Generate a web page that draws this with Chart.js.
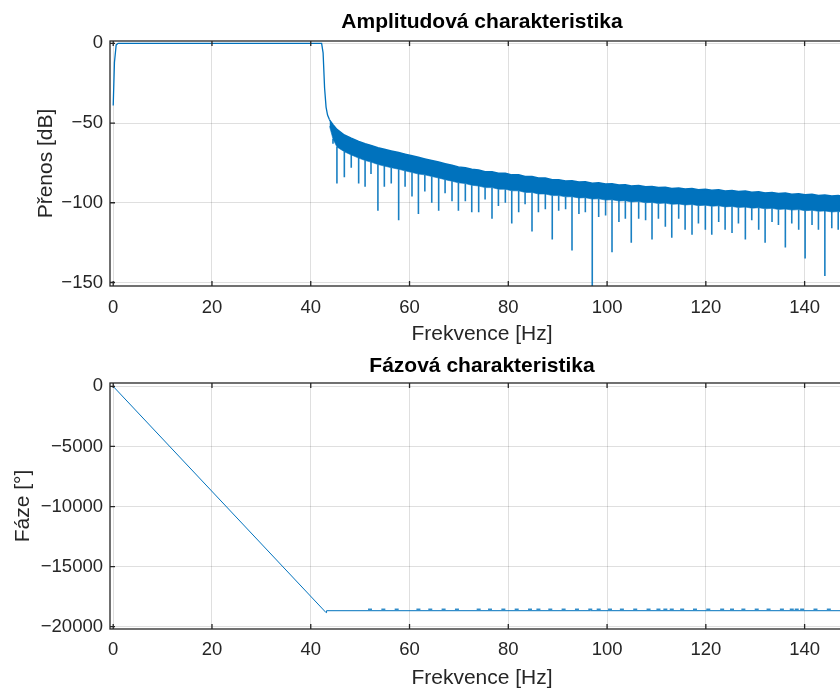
<!DOCTYPE html>
<html>
<head>
<meta charset="utf-8">
<script src="https://cdn.jsdelivr.net/npm/chart.js@4.4.0/dist/chart.umd.min.js"></script>
<style>
  html, body { margin: 0; padding: 0; background: #fff; width: 840px; height: 691px; overflow: hidden; }
  canvas { position: absolute; left: 0; }
  #amp { top: 0; }
  #phase { top: 345px; }
</style>
</head>
<body>
<canvas id="amp" width="870" height="350"></canvas>
<canvas id="phase" width="870" height="346"></canvas>
<script>
// tick labels
var freqTicks = [0, 20, 40, 60, 80, 100, 120, 140];
var ampTicks = [-150, -100, -50, 0];
var phaseTicks = [-20000, -15000, -10000, -5000, 0];

// amplitude: pass band + transition
var passHz = [0, 0.25, 0.6, 1.0, 42.2, 42.5, 42.8, 43.1, 43.4, 43.8];
var passDb = [-39, -12, -1, 0, 0, -6, -28, -40, -45, -48];

// amplitude: stop band (ripple band edges and notch depths at each notch)
var stopHz = [43.8, 44.5, 45.3, 46.8, 48.2, 49.7, 51.0, 52.2, 53.6, 54.9, 56.3, 57.8,
  59.1, 60.5, 61.8, 63.1, 64.5, 65.9, 67.2, 68.6, 69.9, 71.3,
  72.6, 74.0, 75.3, 76.7, 78.0, 79.4, 80.7, 82.1, 83.4, 84.8,
  86.1, 87.5, 88.9, 90.2, 91.6, 92.9, 94.3, 95.6, 97.0, 98.3,
  99.7, 101.0, 102.4, 103.7, 104.9, 106.4, 107.8, 109.1, 110.4, 111.8,
  113.1, 114.5, 115.8, 117.2, 118.5, 119.9, 121.2, 122.6, 123.9, 125.3,
  126.6, 128.0, 129.3, 130.7, 132.0, 133.4, 134.7, 136.1, 137.4, 138.8,
  140.1, 141.5, 142.8, 144.1, 145.5, 146.8, 148.2, 149.5];
var stopTop = [-48, -51, -54, -57.5, -59.5, -61.5, -63, -64, -65.5, -66.5, -67.5, -68.5,
  -69.5, -70.5, -71.5, -72.5, -73.5, -74.5, -75.5, -76.5, -77.5, -78,
  -79, -79.5, -80.5, -80.5, -81.5, -81.5, -82.5, -82.5, -83.5, -83.5,
  -84.5, -84.5, -85.5, -85.5, -86.3, -86.2, -87, -86.8, -87.7, -87.5,
  -88.3, -88.1, -88.9, -88.7, -89.5, -89.2, -90, -89.8, -90.5, -90.2,
  -91, -90.7, -91.4, -91.1, -91.8, -91.5, -92.2, -91.9, -92.6, -92.3,
  -93, -92.7, -93.4, -93.1, -93.8, -93.5, -94.2, -93.9, -94.6, -94.3,
  -95, -94.7, -95.4, -95.1, -95.8, -95.5, -96.2, -96];
var stopLow = [-52, -60, -65, -68, -70, -72, -73.5, -74.5, -76, -77, -78, -79,
  -80, -81, -82, -82.5, -83.5, -84.5, -85.5, -86.5, -87.5, -88,
  -89, -89.5, -90.5, -90.5, -91.5, -91.5, -92.5, -92.5, -93.5, -93.5,
  -94.5, -94.5, -95.5, -95.5, -96.3, -96.2, -97, -96.8, -97.7, -97.5,
  -98.3, -98.1, -98.9, -98.7, -99.5, -99.2, -100, -99.8, -100.5, -100.2,
  -101, -100.7, -101.4, -101.1, -101.8, -101.5, -102.2, -101.9, -102.6, -102.3,
  -103, -102.7, -103.4, -103.1, -103.8, -103.5, -104.2, -103.9, -104.6, -104.3,
  -105, -104.7, -105.4, -105.1, -105.8, -105.5, -106.2, -106];
var stopDip = [-52, -63, -88, -84, -78, -88, -90, -82, -105, -90, -88, -111,
  -90, -96, -107, -93, -100, -105, -94, -99, -105, -99,
  -106, -106, -98, -110, -102, -100, -113, -106, -101, -118,
  -106, -104, -123, -105, -104, -130, -107, -106, -153, -109,
  -108, -131, -112, -110, -125, -110, -111, -123, -110, -115,
  -122, -110, -117, -120, -113, -117, -120, -112, -117, -119,
  -113, -123, -111, -117, -125, -112, -114, -128, -113, -117,
  -135, -114, -117, -146, -116, -117, -114, -118];

// phase
var phaseHz = [0, 43.1, 43.2, 150];
var phaseDeg = [0, -18830, -18670, -18670];
var blipHz = [52, 54.7, 57.4, 61.8, 64.2, 66.9, 69.6, 74, 76.3, 79,
  81.7, 84.4, 86.1, 88.5, 91.2, 93.9, 96.6, 98.3, 100.6, 103,
  105.7, 108.4, 110.4, 111.8, 113.1, 115.2, 117.8, 120.5, 123.3, 125.3,
  127.6, 130.3, 132.7, 135.4, 137.4, 138.4, 139.5, 142.2, 144.9, 147.6];
var blipDeg = -18545;

var blue = '#0072BD';
var axisCol = '#262626';
var fam = '"Liberation Sans", Arial, Helvetica, sans-serif';

function pts(xs, ys) {
  return xs.map(function (x, i) { return {x: x, y: ys[i]}; });
}

var boxPlugin = {
  id: 'box',
  afterDraw: function (chart) {
    var ctx = chart.ctx, a = chart.chartArea;
    var x = chart.scales.x, y = chart.scales.y;
    ctx.save();
    ctx.strokeStyle = axisCol;
    ctx.lineWidth = 1.3;
    ctx.strokeRect(a.left, a.top, a.right - a.left, a.bottom - a.top);
    ctx.beginPath();
    x.ticks.forEach(function (t) {
      var px = x.getPixelForValue(t.value);
      ctx.moveTo(px, a.bottom); ctx.lineTo(px, a.bottom - 5);
      ctx.moveTo(px, a.top); ctx.lineTo(px, a.top + 5);
    });
    y.ticks.forEach(function (t) {
      var py = y.getPixelForValue(t.value);
      ctx.moveTo(a.left, py); ctx.lineTo(a.left + 5, py);
      ctx.moveTo(a.right, py); ctx.lineTo(a.right - 5, py);
    });
    ctx.stroke();
    ctx.restore();
  }
};

function tickLabel(v) { return String(v).replace('-', '\u2212'); }

function makeOptions(o) {
  return {
    responsive: false,
    animation: false,
    devicePixelRatio: 1,
    layout: {padding: {left: 0, right: 16, top: 0, bottom: 0}},
    plugins: {
      legend: {display: false},
      tooltip: {enabled: false},
      title: {
        display: true, text: o.title, fullSize: false, color: '#000',
        font: {family: fam, size: 21, weight: 'bold'},
        padding: o.titlePad
      }
    },
    scales: {
      x: {
        type: 'linear', min: -0.65, max: 150,
        afterBuildTicks: function (s) { s.ticks = freqTicks.map(function (v) { return {value: v}; }); },
        afterFit: function (s) { s.height = o.xHeight; },
        grid: {color: 'rgba(38,38,38,0.15)', drawTicks: false},
        border: {display: false},
        ticks: {color: axisCol, padding: o.xTickPad, font: {family: fam, size: 18.5}, callback: tickLabel, maxRotation: 0},
        title: {display: true, text: 'Frekvence [Hz]', color: axisCol, font: {family: fam, size: 21}, padding: {top: 0, bottom: o.xTitlePad}}
      },
      y: {
        min: o.yMin, max: o.yMax,
        afterBuildTicks: function (s) { s.ticks = o.yTicks.map(function (v) { return {value: v}; }); },
        afterFit: function (s) { s.width = 110; },
        grid: {color: 'rgba(38,38,38,0.15)', drawTicks: false},
        border: {display: false},
        ticks: {color: axisCol, padding: 7, font: {family: fam, size: 18.5}, callback: tickLabel},
        title: {display: true, text: o.yTitle, color: axisCol, font: {family: fam, size: 21}, padding: {top: o.yTitlePad, bottom: 0}}
      }
    }
  };
}

// spikes: one vertical segment per notch, from band bottom down to notch depth
var spikePts = [];
stopHz.forEach(function (f, i) {
  spikePts.push({x: f, y: stopLow[i]}, {x: f, y: stopDip[i]}, {x: f, y: null});
});

new Chart(document.getElementById('amp'), {
  type: 'scatter',
  data: {
    datasets: [
      {data: pts(passHz, passDb), showLine: true, borderColor: blue, borderWidth: 1.3, pointRadius: 0},
      {data: pts(stopHz, stopTop), showLine: true, borderColor: blue, borderWidth: 1.5, pointRadius: 0},
      {data: pts(stopHz, stopLow), showLine: true, borderColor: 'rgba(0,114,189,0.6)', borderWidth: 1, pointRadius: 0,
        fill: '-1', backgroundColor: blue},
      {data: spikePts, showLine: true, spanGaps: false, borderColor: 'rgba(0,114,189,0.9)', borderWidth: 1.6, pointRadius: 0}
    ]
  },
  options: makeOptions({
    title: 'Amplitudová charakteristika', titlePad: {top: 9.8, bottom: 6},
    xHeight: 64, xTickPad: 11, xTitlePad: 3.4,
    yMin: -152.2, yMax: 1.44, yTicks: ampTicks, yTitle: 'Přenos [dB]', yTitlePad: 33.4
  }),
  plugins: [boxPlugin]
});

new Chart(document.getElementById('phase'), {
  type: 'scatter',
  data: {
    datasets: [
      {data: pts(phaseHz, phaseDeg), showLine: true, borderColor: blue, borderWidth: 1, pointRadius: 0},
      {data: blipHz.map(function (f) { return {x: f, y: blipDeg}; }), pointStyle: 'line', pointRadius: 2,
        borderColor: blue, borderWidth: 1.2, pointBorderColor: blue}
    ]
  },
  options: makeOptions({
    title: 'Fázová charakteristika', titlePad: {top: 8.4, bottom: 4.4},
    xHeight: 62, xTickPad: 10, xTitlePad: 0,
    yMin: -20192, yMax: 283, yTicks: phaseTicks, yTitle: 'Fáze [°]', yTitlePad: 10.7
  }),
  plugins: [boxPlugin]
});
</script>
</body>
</html>
